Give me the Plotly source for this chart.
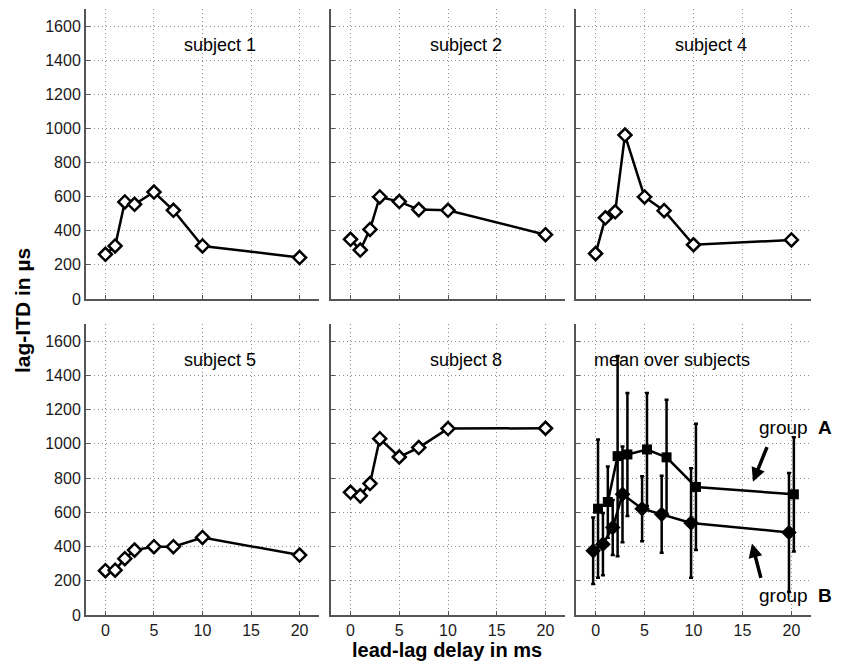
import plotly.graph_objects as go
from plotly.subplots import make_subplots

# ---------------- data ----------------
DELAYS = [0, 1, 2, 3, 5, 7, 10, 20]          # lead-lag delay in ms
SUBJECT_1 = [262, 311, 569, 555, 627, 520, 311, 243]
SUBJECT_2 = [350, 287, 408, 598, 571, 524, 520, 377]
SUBJECT_4 = [266, 476, 511, 961, 598, 518, 318, 346]
SUBJECT_5 = [259, 262, 329, 379, 399, 399, 453, 350]
SUBJECT_8 = [717, 696, 768, 1030, 923, 978, 1089, 1091]
MEAN_A = [621, 660, 928, 938, 967, 921, 748, 705]
ERR_A = [404, 208, 585, 359, 330, 337, 369, 334]
MEAN_B = [375, 414, 511, 705, 621, 588, 538, 482]
ERR_B = [194, 182, 161, 280, 190, 225, 320, 347]
PANEL_TITLES = ["subject 1", "subject 2", "subject 4",
                "subject 5", "subject 8", "mean over subjects"]
X_TICKS = [0, 5, 10, 15, 20]
Y_TICKS = [0, 200, 400, 600, 800, 1000, 1200, 1400, 1600]

# ---------------- style / layout ----------------
PAGE_W, PAGE_H = 843, 671
OFF = 8                                   # default page body margin
FW, FH = PAGE_W - 2 * OFF, PAGE_H - 2 * OFF
FONT = "Liberation Sans, Arial, Helvetica, sans-serif"
OFFSET_A, OFFSET_B = 0.25, -0.25
COLS = [(86, 319), (331, 565), (576, 811)]   # page pixels
ROWS = [(9, 299), (324, 615)]


def px(p):
    return (p - OFF) / FW


def py(p):
    return (FH - (p - OFF)) / FH


fig = make_subplots(rows=2, cols=3)

subjects = [SUBJECT_1, SUBJECT_2, SUBJECT_4, SUBJECT_5, SUBJECT_8]
for i, vals in enumerate(subjects):
    r, c = divmod(i, 3)
    fig.add_trace(go.Scatter(
        x=DELAYS, y=vals, mode="lines+markers",
        line=dict(color="black", width=2.5),
        marker=dict(symbol="diamond", size=10, color="white",
                    line=dict(color="black", width=2.5)),
        showlegend=False), row=r + 1, col=c + 1)

# mean panel
fig.add_trace(go.Scatter(
    x=[d + OFFSET_A for d in DELAYS], y=MEAN_A, mode="lines+markers",
    line=dict(color="black", width=2.5),
    marker=dict(symbol="square", size=10, color="black"),
    error_y=dict(type="data", array=ERR_A, color="black", thickness=2.5, width=2),
    showlegend=False), row=2, col=3)
fig.add_trace(go.Scatter(
    x=[d + OFFSET_B for d in DELAYS], y=MEAN_B, mode="lines+markers",
    line=dict(color="black", width=2.5),
    marker=dict(symbol="diamond", size=12, color="black"),
    error_y=dict(type="data", array=ERR_B, color="black", thickness=2.5, width=2),
    showlegend=False), row=2, col=3)

axis_common = dict(
    showgrid=True, gridcolor="#8c8c8c", griddash="1px,3px", gridwidth=1,
    showline=True, linecolor="#555555", linewidth=2,
    ticks="inside", ticklen=4, tickcolor="#555555", tickwidth=1,
    zeroline=False, mirror=False, automargin=False,
    tickfont=dict(family=FONT, size=16, color="#1a1a1a"),
)

for i in range(6):
    r, c = divmod(i, 3)
    n = i + 1
    xa = "xaxis" if n == 1 else f"xaxis{n}"
    ya = "yaxis" if n == 1 else f"yaxis{n}"
    x0, x1 = COLS[c]
    y0, y1 = ROWS[r]
    fig.layout[xa].update(
        domain=[px(x0), px(x1)], range=[-2, 22],
        tickvals=X_TICKS, showticklabels=(r == 1), **axis_common)
    fig.layout[ya].update(
        domain=[py(y1), py(y0)], range=[0, 1700],
        tickvals=Y_TICKS, showticklabels=(c == 0), **axis_common)
    tx = 0.41 if n == 6 else 0.575
    sfx = "" if n == 1 else str(n)
    fig.add_annotation(
        text=PANEL_TITLES[i], xref=f"x{sfx} domain", yref=f"y{sfx} domain",
        x=tx, y=0.877, showarrow=False, xanchor="center", yanchor="middle",
        font=dict(family=FONT, size=18, color="black"))

# axis titles
fig.add_annotation(text="<b>lead-lag delay in ms</b>", xref="paper", yref="paper",
                   x=px(447), y=py(650), showarrow=False,
                   xanchor="center", yanchor="middle",
                   font=dict(family=FONT, size=20, color="black"))
fig.add_annotation(text="<b>lag-ITD in µs</b>", xref="paper", yref="paper",
                   x=px(22), y=py(311), showarrow=False, textangle=-90,
                   xanchor="center", yanchor="middle",
                   font=dict(family=FONT, size=21, color="black"))

# group labels and arrows
for label, ypix in (("A", 427), ("B", 595)):
    fig.add_annotation(text="group", xref="paper", yref="paper",
                       x=px(783), y=py(ypix), showarrow=False,
                       xanchor="center", yanchor="middle",
                       font=dict(family=FONT, size=19, color="black"))
    fig.add_annotation(text=f"<b>{label}</b>", xref="paper", yref="paper",
                       x=px(825), y=py(ypix), showarrow=False,
                       xanchor="center", yanchor="middle",
                       font=dict(family=FONT, size=19, color="black"))

for (hx, hy, tx_, ty_) in ((16.07, 778, 17.57, 990), (15.97, 418, 16.92, 208)):
    fig.add_annotation(x=hx, y=hy, ax=tx_, ay=ty_, xref="x6", yref="y6",
                       axref="x6", ayref="y6", showarrow=True, text="",
                       arrowhead=2, arrowsize=0.8, arrowwidth=3.5,
                       arrowcolor="black", standoff=0)

fig.update_layout(
    width=FW, height=FH, margin=dict(l=0, r=0, t=0, b=0),
    paper_bgcolor="white", plot_bgcolor="white",
    font=dict(family=FONT, color="black"),
)

fig.write_html("out.html")
